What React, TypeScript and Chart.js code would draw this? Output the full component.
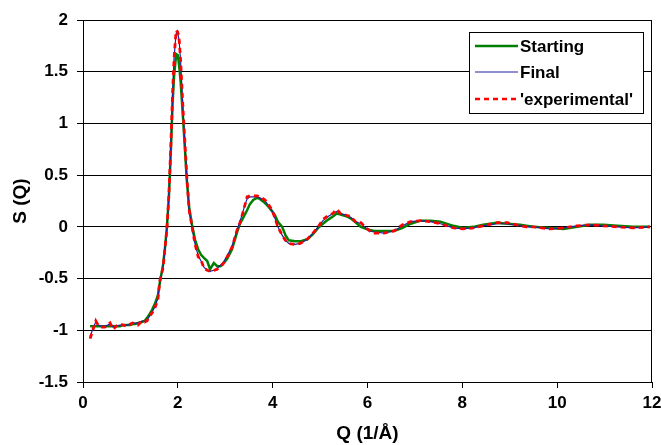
import React, { useEffect, useRef } from "react";
import { Chart, registerables } from "chart.js";

Chart.register(...registerables);

// Q (1/Å) sample positions shared by all three curves
const qValues = [
  0.15, 0.22, 0.27, 0.32, 0.37, 0.46, 0.52, 0.57,
  0.64, 0.70, 0.78, 0.85, 0.93, 1.00, 1.05, 1.10,
  1.16, 1.24, 1.30, 1.35, 1.41, 1.46, 1.52, 1.58,
  1.62, 1.66, 1.69, 1.73, 1.77, 1.81, 1.85, 1.89,
  1.92, 1.95, 1.97, 2.00, 2.03, 2.06, 2.11, 2.15,
  2.19, 2.24, 2.30, 2.36, 2.43, 2.49, 2.55, 2.62,
  2.68, 2.76, 2.83, 2.90, 2.95, 3.04, 3.14, 3.25,
  3.31, 3.38, 3.46, 3.52, 3.59, 3.67, 3.73, 3.84,
  3.92, 3.99, 4.05, 4.11, 4.20, 4.27, 4.34, 4.47,
  4.58, 4.73, 4.85, 4.96, 5.06, 5.17, 5.27, 5.35,
  5.43, 5.57, 5.65, 5.76, 5.86, 5.97, 6.05, 6.14,
  6.35, 6.56, 6.74, 6.91, 7.12, 7.33, 7.54, 7.81,
  8.02, 8.23, 8.44, 8.73, 8.95, 9.22, 9.35, 9.50,
  9.85, 10.13, 10.42, 10.70, 10.97, 11.27, 11.60, 11.96,
];

const startingS = [
  -0.96, -0.96, -0.96, -0.96, -0.96, -0.96, -0.96, -0.96,
  -0.96, -0.96, -0.96, -0.95, -0.95, -0.95, -0.94, -0.94,
  -0.93, -0.92, -0.91, -0.88, -0.84, -0.80, -0.74, -0.66,
  -0.54, -0.44, -0.36, -0.20, 0.00, 0.28, 0.70, 1.20,
  1.45, 1.60, 1.67, 1.66, 1.55, 1.40, 1.05, 0.75,
  0.45, 0.18, 0.02, -0.12, -0.22, -0.27, -0.30, -0.33,
  -0.41, -0.35, -0.38, -0.38, -0.36, -0.31, -0.22, -0.05,
  0.03, 0.09, 0.16, 0.22, 0.26, 0.28, 0.27, 0.23,
  0.19, 0.15, 0.11, 0.05, 0.00, -0.08, -0.13, -0.14,
  -0.14, -0.12, -0.07, -0.01, 0.03, 0.07, 0.10, 0.13,
  0.12, 0.10, 0.08, 0.04, 0.00, -0.02, -0.03, -0.04,
  -0.04, -0.04, -0.01, 0.03, 0.06, 0.06, 0.05, 0.01,
  -0.01, 0.00, 0.02, 0.04, 0.03, 0.02, 0.01, 0.00,
  -0.01, -0.02, 0.00, 0.02, 0.02, 0.01, 0.00, 0.00,
];

const finalS = [
  -1.06, -0.97, -0.92, -0.95, -0.96, -0.96, -0.95, -0.94,
  -0.97, -0.96, -0.95, -0.95, -0.95, -0.94, -0.93, -0.93,
  -0.93, -0.91, -0.91, -0.90, -0.86, -0.82, -0.77, -0.69,
  -0.53, -0.45, -0.38, -0.20, -0.02, 0.30, 0.76, 1.30,
  1.63, 1.80, 1.88, 1.87, 1.79, 1.59, 1.12, 0.80,
  0.47, 0.15, -0.01, -0.16, -0.28, -0.33, -0.39, -0.42,
  -0.43, -0.42, -0.40, -0.37, -0.35, -0.28, -0.19, -0.03,
  0.05, 0.16, 0.27, 0.29, 0.29, 0.29, 0.28, 0.25,
  0.20, 0.15, 0.08, 0.00, -0.08, -0.13, -0.16, -0.17,
  -0.16, -0.12, -0.06, 0.00, 0.06, 0.10, 0.13, 0.15,
  0.13, 0.11, 0.09, 0.05, 0.03, -0.01, -0.04, -0.05,
  -0.06, -0.04, 0.01, 0.05, 0.06, 0.05, 0.03, -0.01,
  -0.02, -0.01, 0.01, 0.03, 0.03, 0.01, 0.00, 0.00,
  -0.02, -0.01, 0.01, 0.02, 0.01, 0.00, -0.01, 0.00,
];

const experimentalS = [
  -1.08, -0.98, -0.91, -0.95, -0.97, -0.97, -0.95, -0.93,
  -0.99, -0.96, -0.94, -0.95, -0.96, -0.94, -0.93, -0.94,
  -0.95, -0.91, -0.92, -0.91, -0.86, -0.83, -0.78, -0.70,
  -0.52, -0.45, -0.39, -0.20, -0.02, 0.30, 0.75, 1.30,
  1.62, 1.82, 1.90, 1.88, 1.80, 1.60, 1.13, 0.81,
  0.48, 0.16, 0.00, -0.16, -0.29, -0.32, -0.40, -0.42,
  -0.43, -0.42, -0.41, -0.38, -0.36, -0.29, -0.20, -0.03,
  0.04, 0.15, 0.29, 0.30, 0.30, 0.30, 0.29, 0.26,
  0.21, 0.16, 0.08, 0.00, -0.08, -0.13, -0.16, -0.17,
  -0.16, -0.12, -0.06, 0.00, 0.07, 0.11, 0.13, 0.17,
  0.13, 0.11, 0.10, 0.04, 0.04, -0.01, -0.04, -0.06,
  -0.06, -0.04, 0.02, 0.05, 0.06, 0.05, 0.03, -0.01,
  -0.02, -0.01, 0.01, 0.04, 0.04, 0.01, 0.00, 0.00,
  -0.02, -0.01, 0.01, 0.02, 0.01, 0.00, -0.01, 0.00,
];

const seriesNames = ["Starting", "Final", "'experimental'"];
const xTickValues = [0, 2, 4, 6, 8, 10, 12];
const yTickValues = [-1.5, -1, -0.5, 0, 0.5, 1, 1.5, 2];
const xTitle = "Q (1/Å)";
const yTitle = "S (Q)";

const FONT = "'Liberation Sans', Arial, sans-serif";
const GREEN = "#008000";
const BLUE = "#2020a0";
const RED = "#ff0000";

const toPoints = (ys: number[]) => qValues.map((q, i) => ({ x: q, y: ys[i] }));

const frameAndLegend = {
  id: "frameAndLegend",
  afterDraw(chart: any) {
    const { ctx, chartArea } = chart;
    ctx.save();
    ctx.strokeStyle = "#000";
    ctx.lineWidth = 1;
    ctx.strokeRect(
      Math.round(chartArea.left) + 0.5,
      Math.round(chartArea.top) + 0.5,
      Math.round(chartArea.right - chartArea.left) - 1,
      Math.round(chartArea.bottom - chartArea.top)
    );
    const bx = 469, by = 32, bw = 174, bh = 81;
    ctx.fillStyle = "#fff";
    ctx.fillRect(bx, by, bw, bh);
    ctx.strokeRect(bx + 0.5, by + 0.5, bw, bh);
    const rows = [46, 72, 99];
    const styles = [
      { color: GREEN, width: 2.5, dash: [] as number[] },
      { color: BLUE, width: 1.2, dash: [] as number[] },
      { color: RED, width: 2.5, dash: [5, 4] },
    ];
    rows.forEach((y, i) => {
      ctx.beginPath();
      ctx.strokeStyle = styles[i].color;
      ctx.lineWidth = styles[i].width;
      ctx.setLineDash(styles[i].dash);
      ctx.moveTo(475, y);
      ctx.lineTo(518, y);
      ctx.stroke();
      ctx.setLineDash([]);
      ctx.fillStyle = "#000";
      ctx.font = `bold 17px ${FONT}`;
      ctx.textBaseline = "middle";
      ctx.textAlign = "left";
      ctx.fillText(seriesNames[i], 520, y + 1);
    });
    ctx.restore();
  },
};

export default function App() {
  const canvasRef = useRef<HTMLCanvasElement | null>(null);

  useEffect(() => {
    if (!canvasRef.current) return;
    const chart = new Chart(canvasRef.current, {
      type: "line",
      data: {
        datasets: [
          {
            label: seriesNames[0],
            data: toPoints(startingS),
            borderColor: GREEN,
            borderWidth: 2.5,
            pointRadius: 0,
            tension: 0,
            order: 3,
          },
          {
            label: seriesNames[1],
            data: toPoints(finalS),
            borderColor: BLUE,
            borderWidth: 1.2,
            pointRadius: 0,
            tension: 0,
            order: 2,
          },
          {
            label: seriesNames[2],
            data: toPoints(experimentalS),
            borderColor: RED,
            borderWidth: 2.8,
            borderDash: [5, 4],
            pointRadius: 0,
            tension: 0,
            order: 1,
          },
        ],
      },
      options: {
        responsive: false,
        animation: false,
        layout: { padding: { top: 20, right: 9, left: 0, bottom: 0 } },
        plugins: {
          legend: { display: false },
          tooltip: { enabled: false },
        },
        scales: {
          x: {
            type: "linear",
            min: 0,
            max: 12,
            afterFit: (s: any) => {
              s.height = 63;
              s.paddingLeft = 0;
              s.paddingRight = 0;
            },
            afterBuildTicks: (s: any) => {
              s.ticks = xTickValues.map((v) => ({ value: v }));
            },
            grid: {
              drawOnChartArea: false,
              drawTicks: true,
              tickLength: 6,
              color: "#000",
            },
            border: { display: true, color: "#000" },
            ticks: {
              color: "#000",
              font: { family: FONT, size: 17, weight: "bold" },
              padding: 5,
              maxRotation: 0,
              autoSkip: false,
              callback: (v: any) => String(v),
            },
            title: {
              display: true,
              text: xTitle,
              color: "#000",
              font: { family: FONT, size: 19, weight: "bold" },
              padding: { top: 0, bottom: 0 },
            },
          },
          y: {
            type: "linear",
            min: -1.5,
            max: 2,
            afterFit: (s: any) => {
              s.width = 83;
              s.paddingTop = 0;
              s.paddingBottom = 0;
            },
            afterBuildTicks: (s: any) => {
              s.ticks = yTickValues.map((v) => ({ value: v }));
            },
            grid: {
              drawOnChartArea: true,
              drawTicks: true,
              tickLength: 6,
              color: "#000",
            },
            border: { display: true, color: "#000" },
            ticks: {
              color: "#000",
              font: { family: FONT, size: 17, weight: "bold" },
              padding: 9,
              autoSkip: false,
              callback: (v: any) => String(v),
            },
            title: {
              display: true,
              text: yTitle,
              color: "#000",
              font: { family: FONT, size: 19, weight: "bold" },
              padding: { top: 9, bottom: 0 },
            },
          },
        },
      },
      plugins: [frameAndLegend],
    });
    return () => chart.destroy();
  }, []);

  return (
    <div style={{ position: "absolute", left: 0, top: 0, width: 661, height: 445, background: "#fff" }}>
      <canvas ref={canvasRef} width={661} height={445} />
    </div>
  );
}
